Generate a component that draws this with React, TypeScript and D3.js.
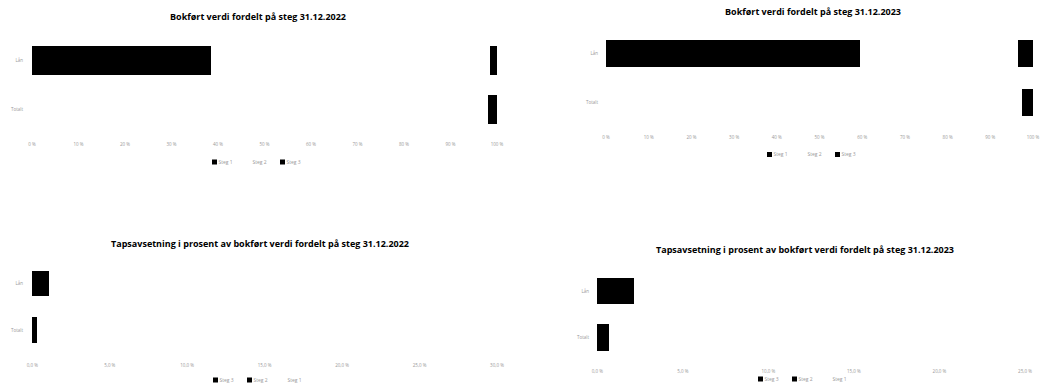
import React from "react";
import * as d3 from "d3";

// ---------- data ----------
const categories = ["Lån", "Totalt"];
const stegNames = ["Steg 1", "Steg 2", "Steg 3"];

// Bokført verdi fordelt på steg (% of total)
const bok2022Steg1 = [38.6, 0];
const bok2022Steg2 = [60.0, 98.1];
const bok2022Steg3 = [1.4, 1.9];

const bok2023Steg1 = [59.5, 0];
const bok2023Steg2 = [36.9, 97.5];
const bok2023Steg3 = [3.6, 2.5];

// Tapsavsetning i prosent av bokført verdi (%)
const tap2022Steg3 = [0.75, 0.2];
const tap2022Steg2 = [0.35, 0.08];
const tap2022Steg1 = [0.05, 0.02];

const tap2023Steg3 = [1.5, 0.5];
const tap2023Steg2 = [0.63, 0.2];
const tap2023Steg1 = [0.1, 0.05];

const bokTicks = [0, 10, 20, 30, 40, 50, 60, 70, 80, 90, 100];
const tap2022Ticks = [0, 5, 10, 15, 20, 25, 30];
const tap2023Ticks = [0, 5, 10, 15, 20, 25];

const stegColors: Record<string, string> = {
  "Steg 1": "#000000",
  "Steg 2": "#ffffff",
  "Steg 3": "#000000",
};
const tapColors: Record<string, string> = {
  "Steg 3": "#000000",
  "Steg 2": "#000000",
  "Steg 1": "#ffffff",
};

type Series = { name: string; values: number[] };

type PanelProps = {
  title: string;
  titleX: number;
  titleY: number;
  series: Series[];
  colors: Record<string, string>;
  ticks: number[];
  tickFmt: (v: number) => string;
  x0: number;
  x1: number;
  y0: number;
  y1: number;
  padInner: number;
  tickY: number;
  legendX: number;
  legendY: number;
  labelX: number;
  legendOrder: string[];
};

function Panel(p: PanelProps) {
  const x = d3
    .scaleLinear()
    .domain([p.ticks[0], p.ticks[p.ticks.length - 1]])
    .range([p.x0, p.x1]);
  const y = d3
    .scaleBand<string>()
    .domain(categories)
    .range([p.y0, p.y1])
    .paddingInner(p.padInner)
    .paddingOuter(p.padInner / 2);

  const rows = categories.map((c, i) => {
    const o: Record<string, number | string> = { cat: c };
    p.series.forEach((s) => (o[s.name] = s.values[i]));
    return o;
  });
  const stack = d3.stack<any>().keys(p.series.map((s) => s.name));
  const stacked = stack(rows as any);

  return (
    <g>
      <text
        x={p.titleX}
        y={p.titleY}
        textAnchor="middle"
        fontFamily="'Open Sans', sans-serif"
        fontWeight="bold"
        fontSize={9}
        fill="#000"
      >
        {p.title}
      </text>
      {stacked.map((layer) => (
        <g key={layer.key} fill={p.colors[layer.key]} shapeRendering="crispEdges">
          {layer.map((d, i) => {
            const w = x(d[1]) - x(d[0]);
            if (w <= 0) return null;
            return (
              <rect
                key={i}
                x={x(d[0])}
                y={y(categories[i])!}
                width={w}
                height={y.bandwidth()}
              />
            );
          })}
        </g>
      ))}
      {categories.map((c) => (
        <text
          key={c}
          x={p.labelX}
          y={y(c)! + y.bandwidth() / 2 + 1.6}
          textAnchor="end"
          fontFamily="'Open Sans', sans-serif"
          fontSize={4.5}
          fill="#999"
        >
          {c}
        </text>
      ))}
      {p.ticks.map((t) => (
        <text
          key={t}
          x={x(t)}
          y={p.tickY}
          textAnchor="middle"
          fontFamily="'Open Sans', sans-serif"
          fontSize={4.5}
          fill="#999"
        >
          {p.tickFmt(t)}
        </text>
      ))}
      {p.legendOrder.map((name, i) => (
        <g key={name} transform={`translate(${p.legendX + i * 34},${p.legendY})`}>
          <rect x={0} y={-2.5} width={5} height={5} fill={p.colors[name]} />
          <text
            x={6.5}
            y={1.8}
            fontFamily="'Open Sans', sans-serif"
            fontSize={5}
            fill="#999"
          >
            {name}
          </text>
        </g>
      ))}
    </g>
  );
}

const pctFmt = (v: number) => `${v} %`;
const decFmt = (v: number) => `${v.toFixed(1).replace(".", ",")} %`;

export default function App() {
  return (
    <svg
      width={1044}
      height={392}
      style={{ position: "absolute", left: 0, top: 0, background: "#fff" }}
    >
      <Panel
        title="Bokført verdi fordelt på steg 31.12.2022"
        titleX={258}
        titleY={20}
        series={[
          { name: stegNames[0], values: bok2022Steg1 },
          { name: stegNames[1], values: bok2022Steg2 },
          { name: stegNames[2], values: bok2022Steg3 },
        ]}
        colors={stegColors}
        ticks={bokTicks}
        tickFmt={pctFmt}
        x0={32}
        x1={497}
        y0={36}
        y1={134}
        padInner={0.41}
        tickY={146}
        legendX={212}
        legendY={162}
        labelX={23}
        legendOrder={["Steg 1", "Steg 2", "Steg 3"]}
      />
      <Panel
        title="Bokført verdi fordelt på steg 31.12.2023"
        titleX={813}
        titleY={15}
        series={[
          { name: stegNames[0], values: bok2023Steg1 },
          { name: stegNames[1], values: bok2023Steg2 },
          { name: stegNames[2], values: bok2023Steg3 },
        ]}
        colors={stegColors}
        ticks={bokTicks}
        tickFmt={pctFmt}
        x0={606}
        x1={1033}
        y0={29}
        y1={127}
        padInner={0.43}
        tickY={138.5}
        legendX={767}
        legendY={154.5}
        labelX={598}
        legendOrder={["Steg 1", "Steg 2", "Steg 3"]}
      />
      <Panel
        title="Tapsavsetning i prosent av bokført verdi fordelt på steg 31.12.2022"
        titleX={260}
        titleY={246.5}
        series={[
          { name: "Steg 3", values: tap2022Steg3 },
          { name: "Steg 2", values: tap2022Steg2 },
          { name: "Steg 1", values: tap2022Steg1 },
        ]}
        colors={tapColors}
        ticks={tap2022Ticks}
        tickFmt={decFmt}
        x0={32.3}
        x1={497}
        y0={260.2}
        y1={353.4}
        padInner={0.45}
        tickY={367}
        legendX={213}
        legendY={380}
        labelX={23}
        legendOrder={["Steg 3", "Steg 2", "Steg 1"]}
      />
      <Panel
        title="Tapsavsetning i prosent av bokført verdi fordelt på steg 31.12.2023"
        titleX={805}
        titleY={253}
        series={[
          { name: "Steg 3", values: tap2023Steg3 },
          { name: "Steg 2", values: tap2023Steg2 },
          { name: "Steg 1", values: tap2023Steg1 },
        ]}
        colors={tapColors}
        ticks={tap2023Ticks}
        tickFmt={decFmt}
        x0={597.3}
        x1={1025}
        y0={267.9}
        y1={360.5}
        padInner={0.425}
        tickY={373}
        legendX={758}
        legendY={379}
        labelX={589}
        legendOrder={["Steg 3", "Steg 2", "Steg 1"]}
      />
    </svg>
  );
}
